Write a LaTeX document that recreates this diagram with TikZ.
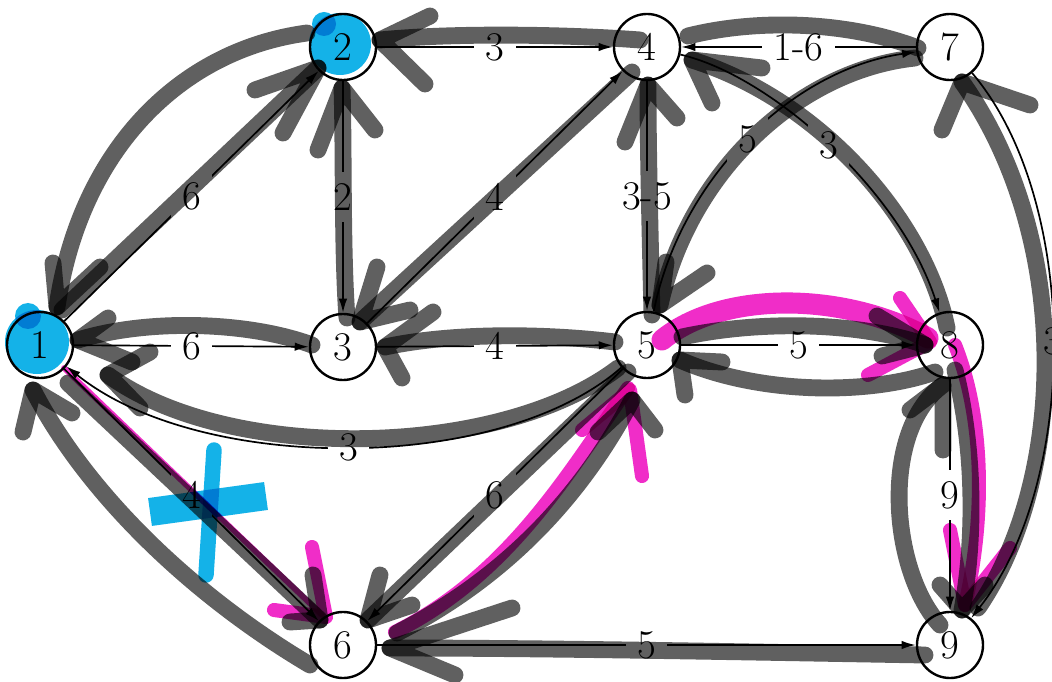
\documentclass[tikz,border=0pt]{standalone}
\usetikzlibrary{arrows.meta}
\definecolor{mkgray}{RGB}{96,96,96}
\definecolor{mkpink}{RGB}{240,45,200}
\definecolor{mkcyan}{RGB}{20,178,232}
\begin{document}
\begin{tikzpicture}[x=0.025cm, y=-0.025cm,
  vtx/.style={circle, draw, line width=1.7pt, fill=white, minimum size=1.65cm, inner sep=0pt, font=\fontsize{29}{30}\selectfont},
  ed/.style={line width=1.2pt, -{Latex[length=10pt,width=6pt]}},
  lab/.style={fill=white, inner sep=8pt, font=\fontsize{29}{30}\selectfont},
  mk/.style={draw=mkgray, line width=12pt, line cap=round, line join=round, blend mode=multiply},
  mg/.style={draw=mkpink, line width=10pt, line cap=round, line join=round, blend mode=multiply},
  cy/.style={fill=mkcyan, blend mode=multiply}]
\path[use as bounding box, fill=white] (0,0) rectangle (1052,682);

% vertices
\node[vtx] (n1) at (40,345) {1};
\node[vtx] (n2) at (343,47) {2};
\node[vtx] (n3) at (343,347) {3};
\node[vtx] (n4) at (647,47) {4};
\node[vtx] (n5) at (647,345) {5};
\node[vtx] (n6) at (343,645) {6};
\node[vtx] (n7) at (950,47) {7};
\node[vtx] (n8) at (950,345) {8};
\node[vtx] (n9) at (950,645) {9};

% graph edges
\draw[ed] (n2) -- node[lab]{3} (n4);
\draw[ed] (n7) -- node[lab]{1-6} (n4);
\draw[ed] (n1) -- node[lab]{6} (n2);
\draw[ed] (n2) -- node[lab]{2} (n3);
\draw[ed] (n3) -- node[lab]{4} (n4);
\draw[ed] (n4) -- node[lab]{3-5} (n5);
\draw[ed] (n5) .. controls (680,180) and (790,70) .. node[lab]{5} (n7);
\draw[ed] (n4) .. controls (770,75) and (900,190) .. node[lab]{3} (n8);
\draw[ed] (n1) -- node[lab]{6} (n3);
\draw[ed] (n3) -- node[lab]{4} (n5);
\draw[ed] (n5) .. controls (500,474) and (200,474) .. node[lab]{3} (n1);
\draw[ed] (n1) -- node[lab]{4} (n6);
\draw[ed] (n5) -- node[lab]{6} (n6);
\draw[ed] (n5) -- node[lab]{5} (n8);
\draw[ed] (n8) -- node[lab]{9} (n9);
\draw[ed] (n6) -- node[lab]{5} (n9);
\draw[ed] (n7) .. controls (1080,200) and (1080,480) .. node[lab]{3} (n9);

% cyan marker
\fill[cy] (37,342) circle[radius=32];
\fill[cy] (28,316) circle[radius=13];
\fill[cy] (340,44) circle[radius=31];
\fill[cy] (324,24) circle[radius=12];
\draw[draw=mkcyan, blend mode=multiply, line width=20pt] (150,512) -- (266,496);
\draw[draw=mkcyan, blend mode=multiply, line width=11pt, line cap=round] (214,450) -- (206,575);

% magenta marker
\draw[mg, line width=4pt] (64,368) -- (322,615);
\draw[mg] (312,547) -- (326,617) -- (274,610);
\draw[mg] (395,632) .. controls (510,575) and (570,470) .. (628,388);
\draw[mg] (582,430) -- (630,390) -- (642,476);
\draw[mg, line width=15pt] (662,340) .. controls (720,292) and (840,290) .. (928,338);
\draw[mg] (900,298) -- (930,342) -- (868,375);
\draw[mg] (955,345) .. controls (985,420) and (985,520) .. (965,605);
\draw[mg] (950,530) -- (965,605) -- (1010,548);

% gray marker
\draw[mk] (640,40) .. controls (560,34) and (450,33) .. (380,40);
\draw[mk] (430,16) -- (380,40) -- (425,84);
\draw[mk] (918,48) .. controls (850,22) and (760,18) .. (688,36);
\draw[mk] (947,328) .. controls (925,220) and (820,100) .. (692,60);
\draw[mk] (762,68) -- (692,60) -- (712,103);
\draw[mk] (307,33) .. controls (180,50) and (80,150) .. (57,307);
\draw[mk] (53,263) -- (57,307) -- (100,267);
\draw[mk] (62,310) -- (318,68);
\draw[mk] (255,90) -- (318,68) -- (283,133);
\draw[mk] (347,318) .. controls (342,250) and (344,150) .. (342,88);
\draw[mk] (318,150) -- (342,88) -- (375,130);
\draw[mk] (632,72) -- (360,322);
\draw[mk] (377,267) -- (360,322) -- (410,310);
\draw[mk] (652,315) .. controls (650,230) and (648,150) .. (648,85);
\draw[mk] (625,142) -- (648,85) -- (677,118);
\draw[mk] (915,58) .. controls (800,70) and (690,170) .. (660,305);
\draw[mk] (666,262) -- (660,305) -- (707,273);
\draw[mk] (978,608) .. controls (1066,480) and (1074,240) .. (962,82);
\draw[mk] (942,130) -- (962,82) -- (1030,105);
\draw[mk] (312,345) .. controls (250,322) and (150,318) .. (78,340);
\draw[mk] (108,318) -- (78,340) -- (132,362);
\draw[mk] (618,368) .. controls (500,458) and (230,464) .. (108,375);
\draw[mk] (150,352) -- (108,375) -- (140,408);
\draw[mk] (615,342) .. controls (540,333) and (450,333) .. (385,347);
\draw[mk] (433,312) -- (385,347) -- (402,378);
\draw[mk] (310,665) .. controls (200,600) and (90,500) .. (33,390);
\draw[mk] (23,432) -- (33,390) -- (72,413);
\draw[mk] (68,383) -- (320,620);
\draw[mk] (313,575) -- (320,620) -- (290,622);
\draw[mk] (628,372) -- (368,620);
\draw[mk] (380,575) -- (368,620) -- (412,605);
\draw[mk] (397,633) .. controls (520,570) and (590,480) .. (632,400);
\draw[mk] (598,432) -- (632,400) -- (655,430);
\draw[mk] (925,655) .. controls (750,652) and (550,648) .. (390,648);
\draw[mk] (512,608) -- (390,648) -- (455,675);
\draw[mk] (682,337) .. controls (760,320) and (860,322) .. (925,345);
\draw[mk] (877,316) -- (925,345) -- (882,356);
\draw[mk] (935,372) .. controls (870,395) and (760,395) .. (680,360);
\draw[mk] (722,362) -- (680,360) -- (685,395);
\draw[mk] (955,370) .. controls (975,450) and (975,540) .. (962,610);
\draw[mk] (940,585) -- (962,610) -- (985,585);
\draw[mk] (940,625) .. controls (890,570) and (880,430) .. (943,385);
\draw[mk] (910,410) -- (943,385) -- (943,450);
\end{tikzpicture}
\end{document}
